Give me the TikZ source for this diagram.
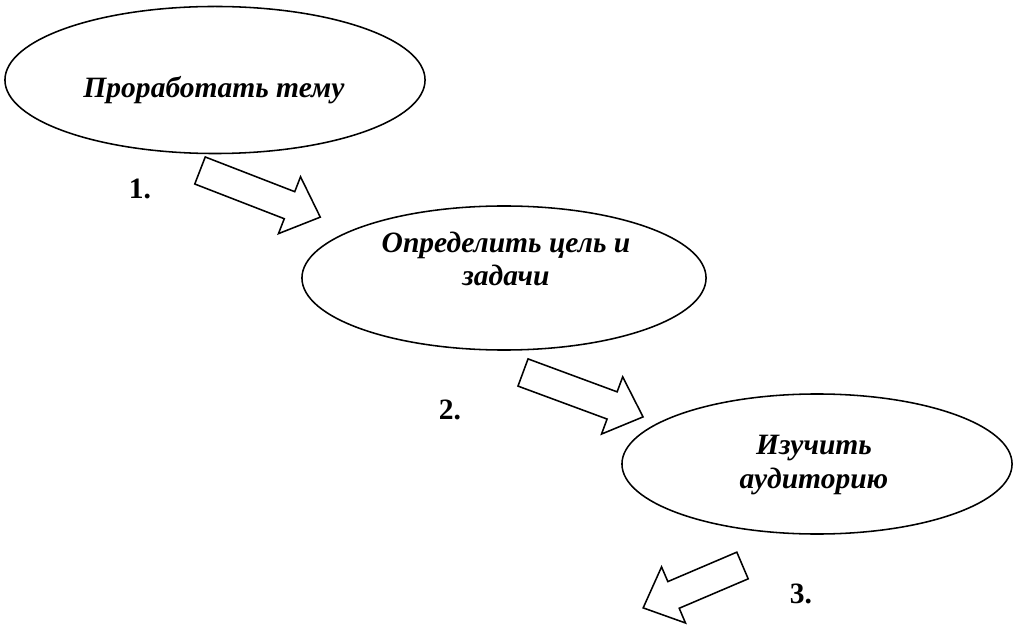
\documentclass[tikz,border=0pt]{standalone}
\usepackage{fontspec}
\setmainfont{Liberation Serif}
\usetikzlibrary{shapes.geometric}

\tikzset{
  stage/.style={draw, ellipse, line width=1.1pt, inner sep=0pt},
  stagetext/.style={font=\fontsize{21}{23.5}\selectfont\bfseries\itshape, inner sep=0pt},
  stepnum/.style={font=\fontsize{21}{23.5}\selectfont\bfseries, inner sep=0pt},
  pics/blockarrow/.style={code={
    \draw[line width=1.1pt, line join=miter]
      (0,-14.5) -- (#1-33,-14.5) -- (#1-33,-30.5) -- (#1,0)
      -- (#1-33,30.5) -- (#1-33,14.5) -- (0,14.5) -- cycle;
  }}
}

\begin{document}
\begin{tikzpicture}[x=0.025cm, y=0.025cm]
\useasboundingbox (0,0) rectangle (1016,625);
% the three stages
\node[stage, minimum width=10.5cm, minimum height=3.675cm] (topic) at (215,545) {};
\node[stage, minimum width=10.1cm, minimum height=3.6cm] (goal) at (504,347) {};
\node[stage, minimum width=9.75cm, minimum height=3.5cm] (audience) at (817,161) {};
\node[stagetext] (topictxt) at (214,535) {Проработать тему};
\node[stagetext, align=center] (goaltxt) at (506,366) {Определить цель и\\задачи};
\node[stagetext, align=center] (audtxt) at (814,160) {Изучить\\аудиторию};
% block arrows between stages
\pic[rotate=-21.2] at (200,454.5) {blockarrow=129};
\pic[rotate=-20.3] at (523,252.5) {blockarrow=128};
\pic[rotate=203.1] at (742.5,59.5) {blockarrow=108};
% step numbers
\node[stepnum] (n1) at (140,436) {1.};
\node[stepnum] (n2) at (450,215) {2.};
\node[stepnum] (n3) at (801,31) {3.};
\end{tikzpicture}
\end{document}
